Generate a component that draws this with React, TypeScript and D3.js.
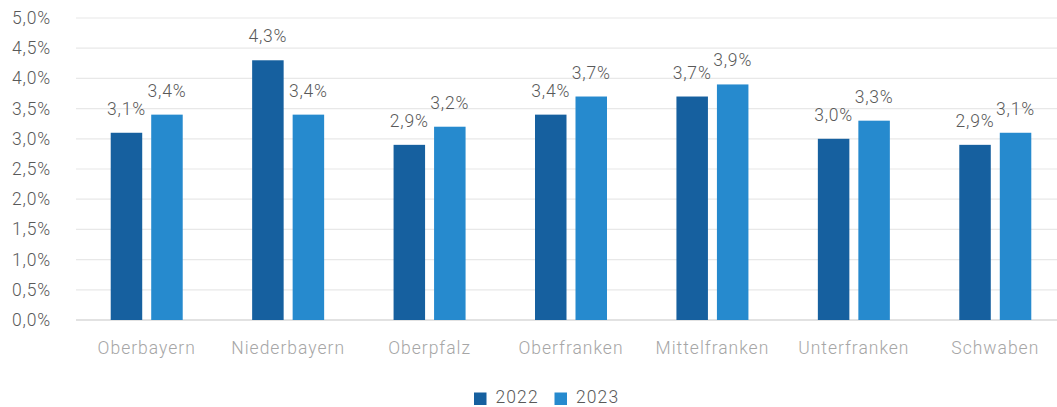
import React from "react";
import * as d3 from "d3";

const categories = ["Oberbayern", "Niederbayern", "Oberpfalz", "Oberfranken", "Mittelfranken", "Unterfranken", "Schwaben"];
const series2022 = [3.1, 4.3, 2.9, 3.4, 3.7, 3.0, 2.9];
const series2023 = [3.4, 3.4, 3.2, 3.7, 3.9, 3.3, 3.1];
const seriesNames = ["2022", "2023"];
const yTicks = [0, 0.5, 1, 1.5, 2, 2.5, 3, 3.5, 4, 4.5, 5];

const W = 1057;
const H = 407;
const colors = ["#16609f", "#268ace"];
const FONT = "Roboto, 'Noto Sans', sans-serif";
const fmt = (v: number) => v.toFixed(1).replace(".", ",") + "%";

export default function App() {
  const x = d3.scaleBand<string>().domain(categories).range([76, 1066]).paddingInner(0).paddingOuter(0);
  const y = d3.scaleLinear().domain([0, 5]).range([320, 18]);
  const barW = 31.5;
  const gap = 9;
  const all = [series2022, series2023];

  return (
    <svg width={W} height={H} style={{ position: "absolute", left: 0, top: 0 }} fontFamily={FONT} fontWeight={300}>
      {yTicks.map((t) => (
        <g key={t}>
          <line x1={76} x2={W} y1={y(t)} y2={y(t)} stroke={t === 0 ? "#d9d9d9" : "#e8e8e8"} strokeWidth={t === 0 ? 1.5 : 1.2} />
          <text x={51} y={y(t) + 6} textAnchor="end" fontSize={17.5} fill="#595959" letterSpacing={0.8}>
            {fmt(t)}
          </text>
        </g>
      ))}
      {categories.map((c, i) => {
        const cx = (x(c) as number) + x.bandwidth() / 2;
        return (
          <g key={c}>
            {all.map((s, k) => {
              const bx = k === 0 ? cx - gap / 2 - barW : cx + gap / 2;
              const v = s[i];
              return (
                <g key={k}>
                  <rect x={bx} y={y(v)} width={barW} height={y(0) - y(v)} fill={colors[k]} />
                  <text x={bx + barW / 2} y={y(v) - 18} textAnchor="middle" fontSize={17.5} fill="#595959" letterSpacing={0.8}>
                    {fmt(v)}
                  </text>
                </g>
              );
            })}
            <text x={cx} y={354} textAnchor="middle" fontSize={17.5} fill="#a6a6a6" letterSpacing={1}>
              {c}
            </text>
          </g>
        );
      })}
      {seriesNames.map((n, k) => {
        const lx = 474 + k * 80.5;
        return (
          <g key={n}>
            <rect x={lx} y={392.5} width={12.5} height={12.5} fill={colors[k]} />
            <text x={lx + 21.5} y={403} fontSize={17.5} fill="#595959" letterSpacing={1.1}>
              {n}
            </text>
          </g>
        );
      })}
    </svg>
  );
}
